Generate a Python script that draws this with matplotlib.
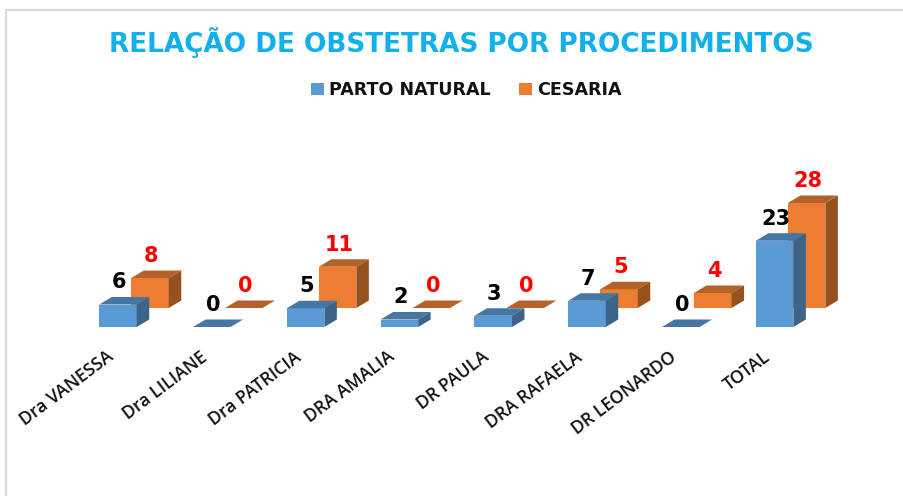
import matplotlib
matplotlib.use('Agg')
import matplotlib.pyplot as plt
from matplotlib.lines import Line2D
from matplotlib.patches import Patch, Polygon
from matplotlib.transforms import ScaledTranslation

categories = ['Dra VANESSA', 'Dra LILIANE', 'Dra PATRICIA', 'DRA AMALIA',
              'DR PAULA', 'DRA RAFAELA', 'DR LEONARDO', 'TOTAL']
parto_natural = [6, 0, 5, 2, 3, 7, 0, 23]
cesaria = [8, 0, 11, 0, 0, 5, 4, 28]

W, H = 904, 496
# pixels per category / per unit of value
PX_X = 93.8
PX_Y = 3.75


def draw_bar(ax, x, value, y0, width, dx, dy, front, top, side):
    # fake 3D box: front face, top and right side
    x0, x1 = x - width / 2, x + width / 2
    ax.add_patch(Polygon([(x0, y0), (x1, y0), (x1, y0 + value), (x0, y0 + value)],
                         closed=True, fc=front, ec='none', clip_on=False, zorder=2))
    ax.add_patch(Polygon([(x0, y0 + value), (x1, y0 + value), (x1 + dx, y0 + value + dy), (x0 + dx, y0 + value + dy)],
                         closed=True, fc=top, ec='none', clip_on=False, zorder=2))
    if value > 0:
        ax.add_patch(Polygon([(x1, y0), (x1 + dx, y0 + dy), (x1 + dx, y0 + value + dy), (x1, y0 + value)],
                             closed=True, fc=side, ec='none', clip_on=False, zorder=2))


fig = plt.figure(figsize=(W / 100, H / 100), dpi=100, facecolor='white')
plt.rcParams['font.family'] = ['DejaVu Sans']

# axes bottom sits on the blue baseline
left, right, top, base = 71, 855, 110, 327
ax = fig.add_axes([left / W, 1 - base / H, (right - left) / W, (base - top) / H])
ax.set_xlim((left - 118) / PX_X, (right - 118) / PX_X)
ax.set_ylim(0, (base - top) / PX_Y)
ax.patch.set_alpha(0)
for s in ax.spines.values():
    s.set_visible(False)
ax.set_yticks([])

bar_w = 37.5 / PX_X
dx = 12.5 / PX_X
dy = 7.5 / PX_Y
off_x = 32 / PX_X
off_y = 19 / PX_Y

for i, (a, b) in enumerate(zip(parto_natural, cesaria)):
    draw_bar(ax, i + off_x, b, off_y, bar_w, dx, dy, '#ED7D31', '#B5622A', '#96521E')
    draw_bar(ax, i, a, 0, bar_w, dx, dy, '#5B9BD5', '#4676A3', '#3B6488')
    ax.annotate(str(b), (i + off_x, off_y + b), xytext=(1, 16), textcoords='offset points',
                ha='center', va='center', color='#FF0000', fontsize=15, fontweight='bold',
                annotation_clip=False, zorder=4)
    ax.annotate(str(a), (i, a), xytext=(0.7, 16), textcoords='offset points',
                ha='center', va='center', color='black', fontsize=15, fontweight='bold',
                annotation_clip=False, zorder=4)

ax.set_xticks(range(len(categories)))
ax.set_xticklabels(categories, rotation=37, ha='right', va='top', rotation_mode='anchor',
                   fontsize=12.8, color='#111111', family='Open Sans', fontweight='semibold')
ax.tick_params(axis='x', length=0, pad=15)
shift = ScaledTranslation(-12 / 100, 0, fig.dpi_scale_trans)
for lab in ax.get_xticklabels():
    lab.set_transform(lab.get_transform() + shift)

fig.text(461 / W, 1 - 43 / H, 'RELAÇÃO DE OBSTETRAS POR PROCEDIMENTOS', ha='center', va='center',
         color='#0FB0EC', fontsize=18.9, fontweight='bold')

handles = [Patch(fc='#5B9BD5', label='PARTO NATURAL'), Patch(fc='#ED7D31', label='CESARIA')]
fig.legend(handles=handles, loc='center', bbox_to_anchor=(466.5 / W, 1 - 90 / H), ncol=2, frameon=False,
           prop={'size': 12.6, 'weight': 'bold'}, handlelength=0.74, handleheight=0.63,
           handletextpad=0.3, columnspacing=1.6, labelcolor='#111111')

# grey frame of the screenshot
fig.add_artist(Line2D([6 / W, 6 / W, 1], [0, 1 - 10 / H, 1 - 10 / H], color='#D9D9D9', lw=1.6))

fig.savefig('out.png', dpi=100)
